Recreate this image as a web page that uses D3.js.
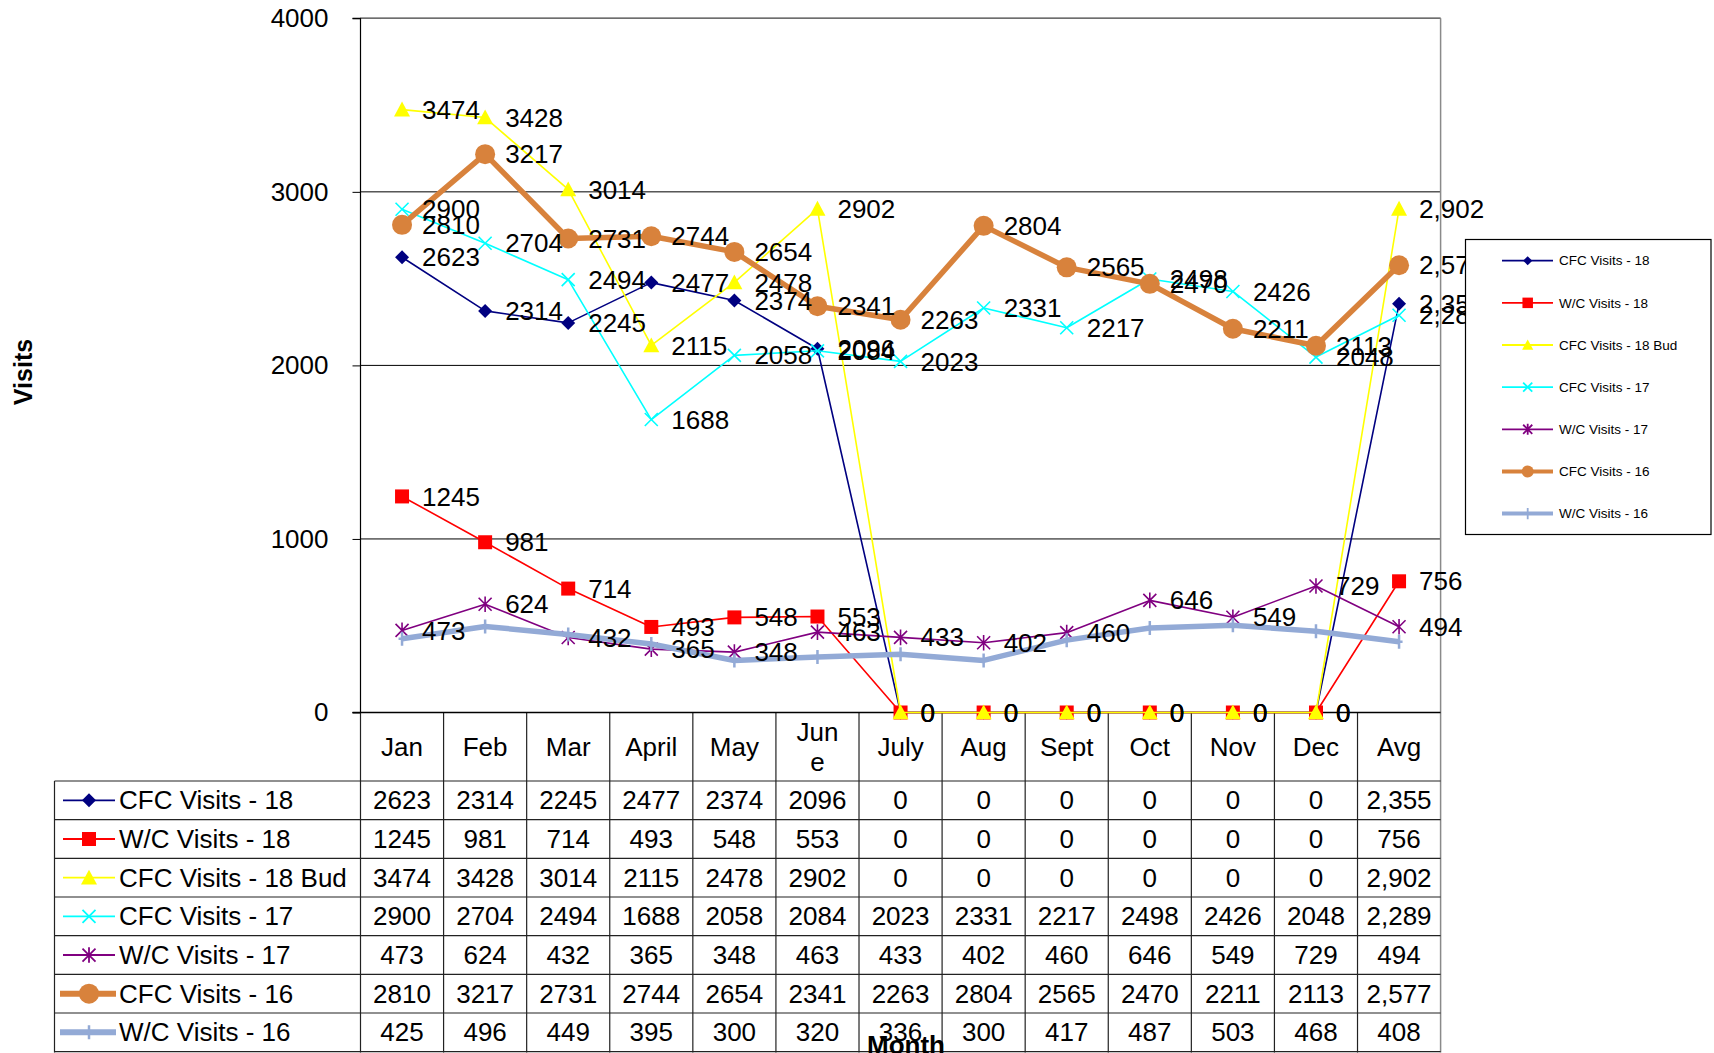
<!DOCTYPE html>
<html><head><meta charset="utf-8">
<script src="https://cdn.jsdelivr.net/npm/d3@7"></script>
<style>
html,body{margin:0;padding:0;background:#fff;overflow:hidden}
svg{display:block;font-family:Arial,"Liberation Sans",sans-serif}
</style></head>
<body>
<svg id="chart" width="1714" height="1053"></svg>
<script>
// ---------- data ----------
const categories = ["Jan","Feb","Mar","April","May","June","July","Aug","Sept","Oct","Nov","Dec","Avg"];
const headerLabels = ["Jan","Feb","Mar","April","May","Jun\ne","July","Aug","Sept","Oct","Nov","Dec","Avg"];
const yTicks = [0,1000,2000,3000,4000];
const seriesNames = ["CFC Visits - 18","W/C Visits - 18","CFC Visits - 18 Bud","CFC Visits - 17","W/C Visits - 17","CFC Visits - 16","W/C Visits - 16"];
const cfc18    = [2623,2314,2245,2477,2374,2096,0,0,0,0,0,0,2355];
const wc18     = [1245,981,714,493,548,553,0,0,0,0,0,0,756];
const cfc18Bud = [3474,3428,3014,2115,2478,2902,0,0,0,0,0,0,2902];
const cfc17    = [2900,2704,2494,1688,2058,2084,2023,2331,2217,2498,2426,2048,2289];
const wc17     = [473,624,432,365,348,463,433,402,460,646,549,729,494];
const cfc16    = [2810,3217,2731,2744,2654,2341,2263,2804,2565,2470,2211,2113,2577];
const wc16     = [425,496,449,395,300,320,336,300,417,487,503,468,408];
const seriesValues = [cfc18, wc18, cfc18Bud, cfc17, wc17, cfc16, wc16];
const yTitle = "Visits";
const xTitle = "Month";

// ---------- styles ----------
const styles = [
  {color:"#000080", width:1.6, marker:"diamond", labels:true},
  {color:"#FF0000", width:1.6, marker:"square", labels:true},
  {color:"#FFFF00", width:1.6, marker:"triangle", labels:true},
  {color:"#00FFFF", width:1.6, marker:"x", labels:true},
  {color:"#800080", width:1.6, marker:"star", labels:true},
  {color:"#D8823C", width:5.5, marker:"circle", labels:true},
  {color:"#93AAD6", width:5.5, marker:"plus", labels:false}
];

function markerPath(type, s){
  switch(type){
    case "diamond": {const h=7*s; return `M0,${-h}L${h},0L0,${h}L${-h},0Z`;}
    case "square": {const h=7*s; return `M${-h},${-h}H${h}V${h}H${-h}Z`;}
    case "triangle": {const h=8*s; return `M0,${-h}L${h},${h*0.85}L${-h},${h*0.85}Z`;}
    case "circle": {const r=10*s; return `M${r},0A${r},${r} 0 1,1 ${-r},0A${r},${r} 0 1,1 ${r},0Z`;}
    case "x": {const h=6.5*s; return `M${-h},${-h}L${h},${h}M${-h},${h}L${h},${-h}`;}
    case "star": {const h=6.5*s; return `M${-h},${-h}L${h},${h}M${-h},${h}L${h},${-h}M0,${-h*1.2}V${h*1.2}`;}
    case "plus": {const h=7*s; return `M0,${-h}V${h}M${-h*0.5},0H${h*0.5}`;}
  }
}
function isStroked(t){return t==="x"||t==="star"||t==="plus";}

// ---------- layout ----------
const svg = d3.select("#chart");
const plotL = 360.5, plotR = 1440.6, plotT = 18.3, plotB = 712.5;
const tableL = 54.5, rowH = 38.67, headerB = 781;
const x = d3.scaleBand().domain(categories).range([plotL, plotR]);
const y = d3.scaleLinear().domain([0,4000]).range([plotB, plotT]);
const cx = c => x(c) + x.bandwidth()/2;
const fmt = (v,i) => categories[i]==="Avg" ? d3.format(",")(v) : String(v);

// gridlines
svg.append("g").selectAll("line").data(yTicks.filter(d=>d>0)).join("line")
  .attr("x1",plotL).attr("x2",plotR).attr("y1",d=>y(d)).attr("y2",d=>y(d))
  .attr("stroke","#000").attr("stroke-width",1);
svg.append("line").attr("x1",plotL).attr("x2",plotR).attr("y1",plotT).attr("y2",plotT).attr("stroke","#6e6e6e").attr("stroke-width",1.5);
svg.append("line").attr("x1",plotR).attr("x2",plotR).attr("y1",plotT).attr("y2",1052.5).attr("stroke","#8a8a8a").attr("stroke-width",1.5);

// y axis
const yAxis = svg.append("g").attr("transform",`translate(${plotL},0)`)
  .call(d3.axisLeft(y).tickValues(yTicks).tickSize(8).tickPadding(24).tickFormat(d3.format("d")));
yAxis.select(".domain").attr("stroke","#000").attr("stroke-width",1.2).attr("d",`M-8,${plotT}H0V${plotB}H-8`);
yAxis.selectAll(".tick line").attr("stroke","#000");
yAxis.selectAll(".tick text").attr("font-size",26).attr("font-family",'Arial,"Liberation Sans",sans-serif').attr("fill","#000");
yAxis.attr("font-family",null);

svg.append("text").attr("transform","translate(23,372) rotate(-90)")
  .attr("text-anchor","middle").attr("dominant-baseline","central")
  .attr("font-size",25).attr("font-weight","bold").text(yTitle);

// ---------- table ----------
const tg = svg.append("g");
categories.forEach((c,i)=>{
  tg.append("line").attr("x1",x(c)).attr("x2",x(c)).attr("y1",plotB).attr("y2",1052.5).attr("stroke","#222").attr("stroke-width",1.2);
});
tg.append("line").attr("x1",plotL-8).attr("x2",plotR).attr("y1",plotB).attr("y2",plotB).attr("stroke","#000").attr("stroke-width",1.5);
for(let r=0;r<=7;r++){
  const yy = headerB + r*rowH;
  tg.append("line").attr("x1",tableL).attr("x2",plotR).attr("y1",yy).attr("y2",yy).attr("stroke","#222").attr("stroke-width",1.2);
}
tg.append("line").attr("x1",tableL).attr("x2",tableL).attr("y1",headerB).attr("y2",1052.5).attr("stroke","#222").attr("stroke-width",1.2);

headerLabels.forEach((lab,i)=>{
  const lines = lab.split("\n");
  const t = tg.append("text").attr("x",cx(categories[i])).attr("text-anchor","middle").attr("font-size",26);
  const ymid = (plotB+headerB)/2;
  lines.forEach((ln,k)=>{
    t.append("tspan").attr("x",cx(categories[i]))
      .attr("y", ymid + (k-(lines.length-1)/2)*30).attr("dy","0.35em").text(ln);
  });
});

seriesNames.forEach((name,si)=>{
  const st = styles[si];
  const ymid = headerB + si*rowH + rowH/2;
  tg.append("line").attr("x1",st.width>3?60:63).attr("x2",st.width>3?116:115).attr("y1",ymid).attr("y2",ymid)
    .attr("stroke",st.color).attr("stroke-width",st.width>3?6:1.8);
  const mk = tg.append("path").attr("transform",`translate(89,${ymid})`).attr("d",markerPath(st.marker, 1));
  if(isStroked(st.marker)) mk.attr("fill","none").attr("stroke",st.color).attr("stroke-width",st.marker==="plus"?2.5:1.8);
  else mk.attr("fill",st.color);
  tg.append("text").attr("x",119).attr("y",ymid).attr("dy","0.35em").attr("font-size",26).text(name);
  seriesValues[si].forEach((v,i)=>{
    tg.append("text").attr("x",cx(categories[i])).attr("y",ymid).attr("dy","0.35em")
      .attr("text-anchor","middle").attr("font-size",26).text(fmt(v,i));
  });
});

// ---------- series ----------
const line = d3.line().x((d,i)=>cx(categories[i])).y(d=>y(d));
const sg = svg.append("g");
seriesValues.forEach((vals,si)=>{
  const st = styles[si];
  const g = sg.append("g");
  g.append("path").datum(vals).attr("d",line).attr("fill","none")
    .attr("stroke",st.color).attr("stroke-width",st.width).attr("stroke-linejoin","round");
  g.selectAll("path.m").data(vals).join("path").attr("class","m")
    .attr("transform",(d,i)=>`translate(${cx(categories[i])},${y(d)})`)
    .attr("d",markerPath(st.marker,1))
    .each(function(){
      const s = d3.select(this);
      if(isStroked(st.marker)) s.attr("fill","none").attr("stroke",st.color).attr("stroke-width",st.marker==="plus"?2.5:1.6);
      else s.attr("fill",st.color);
    });
});
const lg = svg.append("g");
seriesValues.forEach((vals,si)=>{
  if(!styles[si].labels) return;
  lg.selectAll(null).data(vals).join("text")
    .attr("x",(d,i)=>cx(categories[i])+20).attr("y",d=>y(d)).attr("dy","0.35em")
    .attr("font-size",26).attr("fill","#000").text((d,i)=>fmt(d,i));
});

svg.append("text").attr("x",906).attr("y",1054).attr("text-anchor","middle")
  .attr("font-size",26).attr("font-weight","bold").text(xTitle);

// ---------- legend ----------
const leg = svg.append("g");
leg.append("rect").attr("x",1465.5).attr("y",239.5).attr("width",245.5).attr("height",295)
  .attr("fill","#fff").attr("stroke","#000").attr("stroke-width",1.2);
seriesNames.forEach((name,si)=>{
  const st = styles[si];
  const ly = 260.7 + si*42.15;
  leg.append("line").attr("x1",1502).attr("x2",1553).attr("y1",ly).attr("y2",ly)
    .attr("stroke",st.color).attr("stroke-width",st.width>3?4:1.8);
  const sc = {diamond:0.65,square:0.75,triangle:0.7,x:0.7,star:0.7,circle:0.6,plus:0.8}[st.marker];
  const mk = leg.append("path").attr("transform",`translate(1527.7,${ly})`).attr("d",markerPath(st.marker,sc));
  if(isStroked(st.marker)) mk.attr("fill","none").attr("stroke",st.color).attr("stroke-width",1.8);
  else mk.attr("fill",st.color);
  leg.append("text").attr("x",1559).attr("y",ly).attr("dy","0.35em").attr("font-size",13.5).text(name);
});
</script>
</body></html>
